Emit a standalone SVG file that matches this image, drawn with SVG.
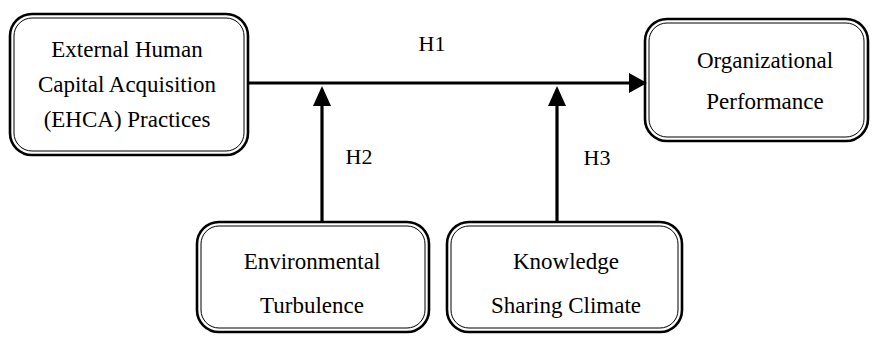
<svg xmlns="http://www.w3.org/2000/svg" width="872" height="338" viewBox="0 0 872 338">
<style>
.outer{fill:#fff;stroke:#000;stroke-width:2.6}
.inner{fill:none;stroke:#000;stroke-width:1}
text{font-family:"Liberation Serif","Times New Roman",serif;font-size:23px;fill:#000;text-anchor:middle}
.lbl{font-size:22px}
.conn line{stroke:#000;stroke-width:3.2}
.conn path{fill:#000}
</style>
<rect width="872" height="338" fill="#fff"/>
<g id="ehca">
<rect class="outer" x="10" y="14" width="238" height="141" rx="22"/>
<rect class="inner" x="14" y="18" width="230" height="133" rx="18"/>
<text x="127" y="57">External Human</text>
<text x="127" y="92">Capital Acquisition</text>
<text x="127" y="127">(EHCA) Practices</text>
</g>
<g id="orgperf">
<rect class="outer" x="645" y="19" width="223" height="122" rx="22"/>
<rect class="inner" x="649" y="23" width="215" height="114" rx="18"/>
<text x="765" y="68">Organizational</text>
<text x="765" y="109">Performance</text>
</g>
<g id="env">
<rect class="outer" x="197" y="222" width="232" height="110" rx="22"/>
<rect class="inner" x="201" y="226" width="224" height="102" rx="18"/>
<text x="312" y="269">Environmental</text>
<text x="312" y="313">Turbulence</text>
</g>
<g id="ksc">
<rect class="outer" x="447" y="222" width="235" height="110" rx="22"/>
<rect class="inner" x="451" y="226" width="227" height="102" rx="18"/>
<text x="566" y="269">Knowledge</text>
<text x="566" y="313">Sharing Climate</text>
</g>
<g id="connectors" class="conn">
<line x1="248" y1="83" x2="631" y2="83"/>
<path d="M629,73 L647,83 L629,93 Z"/>
<line x1="322" y1="222" x2="322" y2="104"/>
<path d="M313,106 L322,86 L331,106 Z"/>
<line x1="557" y1="222" x2="557" y2="104"/>
<path d="M548,106 L557,86 L566,106 Z"/>
</g>
<g id="labels">
<text class="lbl" x="432" y="51">H1</text>
<text class="lbl" x="359" y="164">H2</text>
<text class="lbl" x="597" y="165">H3</text>
</g>
</svg>
